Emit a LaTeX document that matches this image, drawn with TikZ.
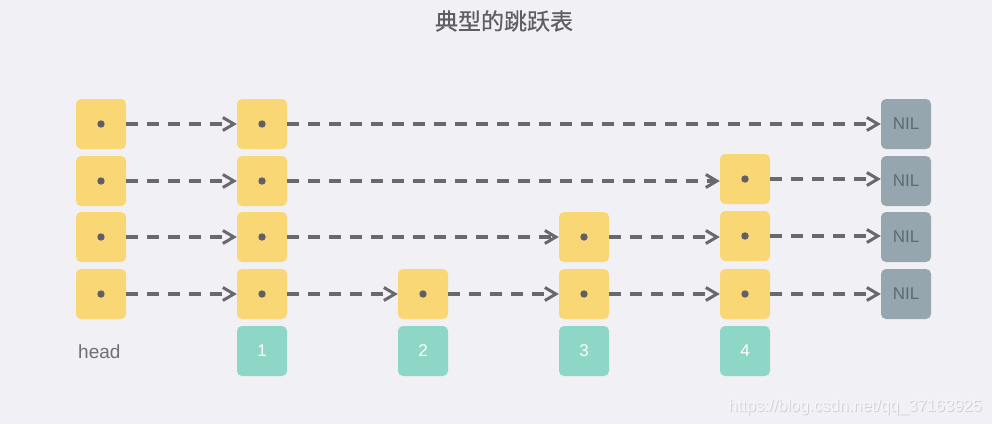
\documentclass[tikz,border=0pt]{standalone}
\usepackage{fontspec}
\setmainfont{Liberation Sans}
\newfontfamily\cjk[FakeBold=0.6]{Noto Sans CJK SC}
\usetikzlibrary{arrows.meta}
\definecolor{bg}{HTML}{F0F0F5}
\definecolor{ylw}{HTML}{F8D774}
\definecolor{dotc}{HTML}{5F5F66}
\definecolor{arr}{HTML}{68686E}
\definecolor{nilc}{HTML}{96A6AE}
\definecolor{niltxt}{HTML}{5D6A72}
\definecolor{teal}{HTML}{8ED6C6}
\definecolor{ttl}{HTML}{5E5E63}
\definecolor{headc}{HTML}{6E6E73}
\definecolor{wm}{HTML}{F6F6FA}
\definecolor{wmsh}{HTML}{CFCFD6}
\tikzset{
  cell/.style={fill=ylw,rounded corners=5pt,minimum width=50pt,minimum height=50pt,inner sep=0pt},
  nilbox/.style={fill=nilc,rounded corners=5pt,minimum width=50pt,minimum height=50pt,inner sep=0pt,text=niltxt,font=\fontsize{17}{19}\selectfont},
  idx/.style={fill=teal,rounded corners=5pt,minimum width=50pt,minimum height=50pt,inner sep=0pt,text=white,font=\fontsize{17}{19}\selectfont},
  link/.style={draw=arr,line width=3.2pt,dash pattern=on 12pt off 9pt,-{Straight Barb[length=11pt,width=13pt,line width=3pt,line join=miter]}}
}
\newcommand{\cellat}[3]{\node[cell] (#1) at (#2,#3) {}; \fill[dotc] (#1.center) circle (3.7pt);}
\begin{document}
\begin{tikzpicture}[x=1pt,y=-1pt]
\fill[bg] (0,0) rectangle (992,424);
\useasboundingbox (0,0) rectangle (992,424);
\node[text=ttl,font=\cjk\fontsize{23}{26}\selectfont] (title) at (504,21) {典型的跳跃表};
% head column
\cellat{h1}{101}{124}
\cellat{h2}{101}{181}
\cellat{h3}{101}{237}
\cellat{h4}{101}{294}
% column 1
\cellat{a1}{262}{124}
\cellat{a2}{262}{181}
\cellat{a3}{262}{237}
\cellat{a4}{262}{294}
% column 2
\cellat{b4}{423}{294}
% column 3
\cellat{c3}{584}{237}
\cellat{c4}{584}{294}
% column 4
\cellat{d2}{745}{179}
\cellat{d3}{745}{236}
\cellat{d4}{745}{294}
% NIL
\node[nilbox] (n1) at (906,124) {NIL};
\node[nilbox] (n2) at (906,181) {NIL};
\node[nilbox] (n3) at (906,237) {NIL};
\node[nilbox] (n4) at (906,294) {NIL};
% index row
\node[text=headc,font=\fontsize{19}{21}\selectfont,anchor=base west,inner sep=0pt] (head) at (78,358) {head};
\node[idx] (i1) at (262,351) {1};
\node[idx] (i2) at (423,351) {2};
\node[idx] (i3) at (584,351) {3};
\node[idx] (i4) at (745,351) {4};
% links
\draw[link] (h1) -- (a1);
\draw[link] (a1) -- (n1);
\draw[link] (h2) -- (a2);
\draw[link] (a2) -- (d2.west |- a2);
\draw[link] (d2) -- (n2.west |- d2);
\draw[link] (h3) -- (a3);
\draw[link] (a3) -- (c3);
\draw[link] (c3) -- (d3.west |- c3);
\draw[link] (d3) -- (n3.west |- d3);
\draw[link] (h4) -- (a4);
\draw[link] (a4) -- (b4);
\draw[link] (b4) -- (c4);
\draw[link] (c4) -- (d4);
\draw[link] (d4) -- (n4);
\node[text=wmsh,font=\fontsize{16.5}{18}\selectfont,anchor=base east,inner sep=0pt] at (983,412) {https://blog.csdn.net/qq\_37163925};
\node[text=wm,font=\fontsize{16.5}{18}\selectfont,anchor=base east,inner sep=0pt] (wmark) at (982,411) {https://blog.csdn.net/qq\_37163925};
\end{tikzpicture}
\end{document}
